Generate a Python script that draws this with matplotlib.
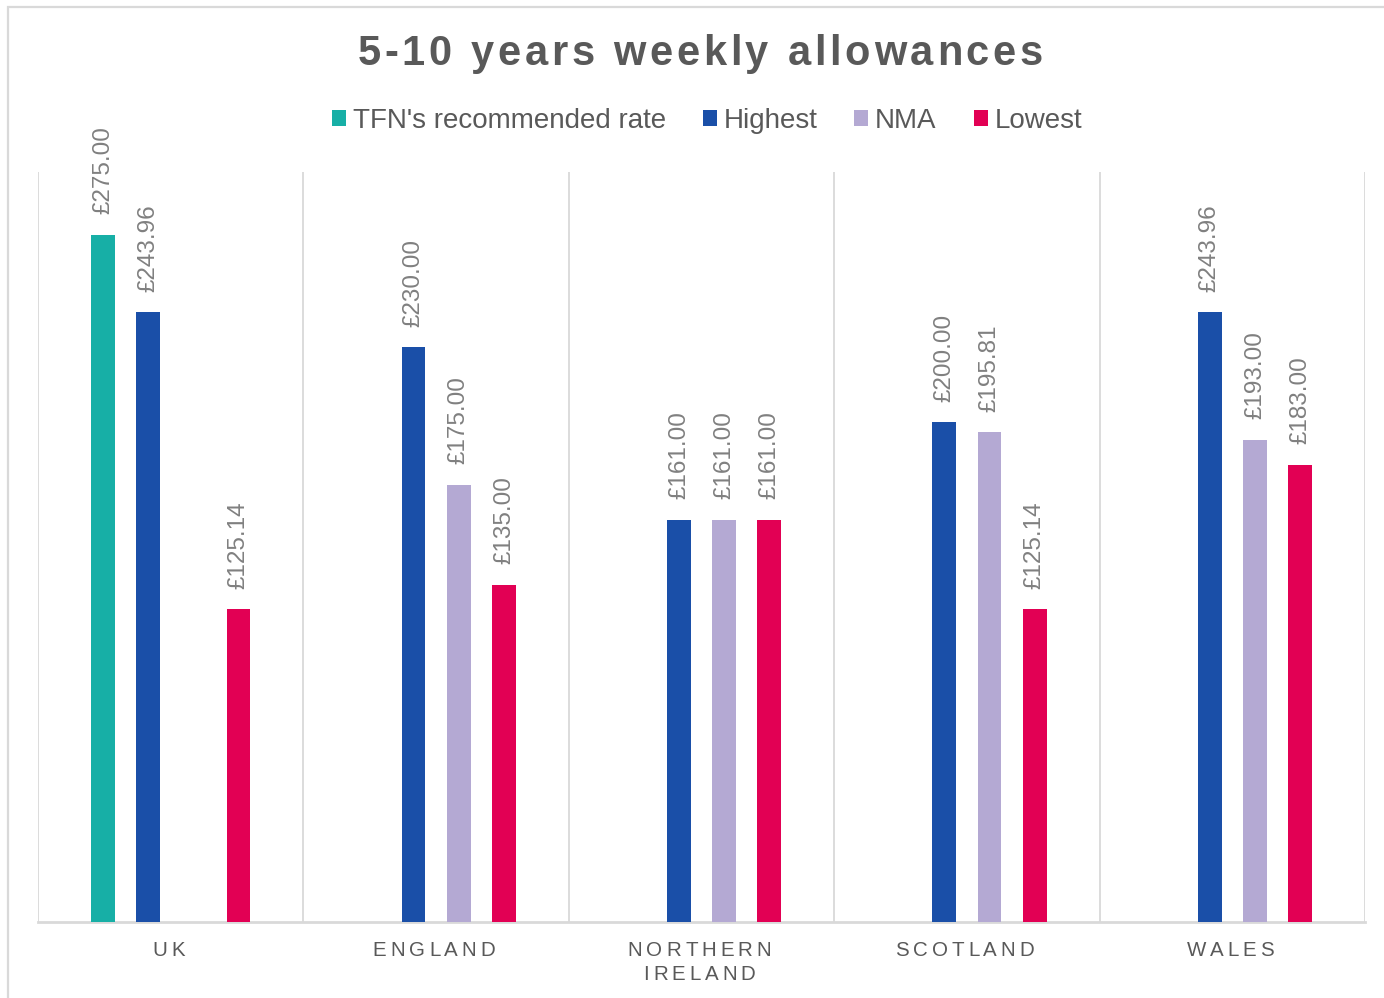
import numpy as np
import matplotlib
matplotlib.use("Agg")
import matplotlib.pyplot as plt
from matplotlib.patches import Rectangle, Patch
from matplotlib.font_manager import findfont, FontProperties
from matplotlib.ft2font import FT2Font

# ---------------- data ----------------
title = "5-10 years weekly allowances"
categories = ["UK", "ENGLAND", "NORTHERN\nIRELAND", "SCOTLAND", "WALES"]
series_names = ["TFN's recommended rate", "Highest", "NMA", "Lowest"]
tfn_rate = [275.00, np.nan, np.nan, np.nan, np.nan]
highest = [243.96, 230.00, 161.00, 200.00, 243.96]
nma = [np.nan, 175.00, 161.00, 195.81, 193.00]
lowest = [125.14, 135.00, 161.00, 125.14, 183.00]
colors = ["#17AFA6", "#1A4FA8", "#B4A9D3", "#E20054"]

W, H, DPI = 1384, 998, 100
FONT = "Liberation Sans"
TXT = "#595959"
GRID = "#D9D9D9"

fig = plt.figure(figsize=(W / DPI, H / DPI), dpi=DPI)
fig.patch.set_facecolor("white")

# outer chart border (right/bottom edges fall outside the image)
fig.patches.append(Rectangle((8 / W, -0.05), 1.2, (H - 7) / H + 0.05,
                             transform=fig.transFigure, fill=False,
                             edgecolor=GRID, linewidth=1.6, zorder=0))

ax = fig.add_axes([38 / W, (H - 922) / H, (1365 - 38) / W, (922 - 172) / H])
ax.set_xlim(-0.5, len(categories) - 0.5)
ax.set_ylim(0, 300)

series = [tfn_rate, highest, nma, lowest]
step = 0.1703
bw = 0.0904
x = np.arange(len(categories))
for k, (vals, c) in enumerate(zip(series, colors)):
    offs = (k - 1.5) * step
    vals = np.array(vals, dtype=float)
    ax.bar(x + offs, vals, width=bw, color=c, zorder=3)
    for xi, v in zip(x + offs, vals):
        if np.isnan(v):
            continue
        ax.annotate(f"£{v:.2f}", (xi, v), xytext=(0, 14.5), textcoords="offset points",
                    rotation=90, ha="center", va="bottom", fontsize=17.5,
                    family=FONT, color="#808080")

# gridlines at category boundaries
for b in np.arange(-0.5, len(categories), 1.0):
    ax.axvline(b, color=GRID, linewidth=1.3, zorder=1)
for s in ["top", "left", "right"]:
    ax.spines[s].set_visible(False)
ax.spines["bottom"].set_color(GRID)
ax.spines["bottom"].set_linewidth(2)
ax.set_xticks([])
ax.set_yticks([])
ax.patch.set_alpha(0)


def spaced_text(s, xc, yc_px, size, spacing_px, weight="normal", color=TXT):
    """Draw letter-spaced text centred at pixel x=xc, pixel-from-top y=yc_px."""
    fp = FontProperties(family=FONT, weight=weight)
    ft = FT2Font(findfont(fp))
    ft.set_size(size, DPI)
    advs = [ft.load_char(ord(ch)).linearHoriAdvance / 65536.0 for ch in s]
    total = sum(advs) + spacing_px * (len(s) - 1)
    xp = xc - total / 2
    for ch, a in zip(s, advs):
        if ch != " ":
            fig.text(xp / W, (H - yc_px) / H, ch, fontsize=size, family=FONT,
                     weight=weight, color=color, ha="left", va="center")
        xp += a + spacing_px


# title
spaced_text(title, 700, 54, 30, 3.7, weight="bold")

# category labels
for i, cat in enumerate(categories):
    xc = ax.transData.transform((i, 0))[0] - 2
    for j, line in enumerate(cat.split("\n")):
        spaced_text(line, xc, 951 + j * 24, 14.8, 3.9)

# legend
handles = [Patch(facecolor=c, edgecolor="none") for c in colors]
leg = fig.legend(handles, series_names, loc="center", bbox_to_anchor=(707 / W, (H - 121) / H),
                 ncol=4, frameon=False, handlelength=0.5, handleheight=0.5,
                 handletextpad=0.25, columnspacing=1.33,
                 prop=FontProperties(family=FONT, size=20))
for t in leg.get_texts():
    t.set_color(TXT)

fig.savefig("out.png", dpi=DPI, facecolor="white")
